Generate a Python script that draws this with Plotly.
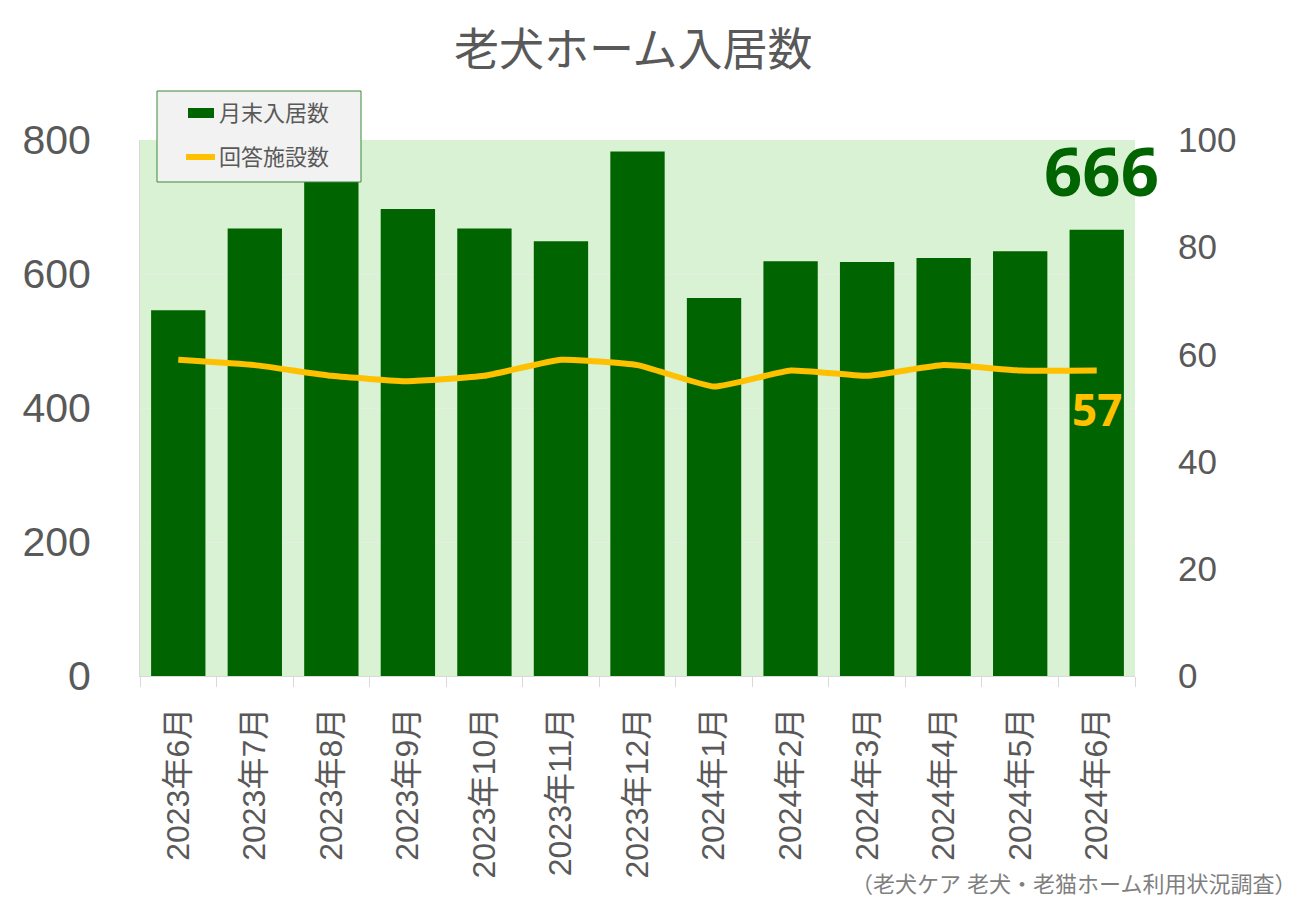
import plotly.graph_objects as go

months = ["2023年6月", "2023年7月", "2023年8月", "2023年9月", "2023年10月", "2023年11月",
          "2023年12月", "2024年1月", "2024年2月", "2024年3月", "2024年4月", "2024年5月", "2024年6月"]
residents = [546, 668, 755, 697, 668, 649, 783, 564, 619, 618, 624, 634, 666]
facilities = [59, 58, 56, 55, 56, 59, 58, 54, 57, 56, 58, 57, 57]
legend_names = ["月末入居数", "回答施設数"]

FONT = "Liberation Sans, Arial, Noto Sans CJK JP, sans-serif"
GRAY = "#595959"
GREEN = "#006400"
GOLD = "#ffc000"

# plot-area pixel geometry (page has an 8px body margin)
PX0, PX1, PY0, PY1 = 140, 1135, 140, 676


def px(x):
    return (x - PX0) / (PX1 - PX0)


def py(y):
    return (PY1 - y) / (PY1 - PY0)


fig = go.Figure()
fig.add_trace(go.Bar(
    x=months, y=residents, name=legend_names[0],
    marker=dict(color=GREEN, line=dict(width=0)),
    yaxis="y", showlegend=False,
))
fig.add_trace(go.Scatter(
    x=months, y=facilities, name=legend_names[1], mode="lines",
    line=dict(color=GOLD, width=6, shape="spline", smoothing=0.4),
    yaxis="y2", showlegend=False,
))

# value labels
fig.add_annotation(x=months[-1], xshift=5, y=py(170), yref="paper", yanchor="middle",
                   text="<b>%d</b>" % residents[-1], showarrow=False,
                   font=dict(family="Noto Sans, DejaVu Sans, sans-serif", size=67, color=GREEN))
fig.add_annotation(x=months[-1], y=facilities[-1], yref="y2", yshift=-39,
                   text="<b>%d</b>" % facilities[-1], showarrow=False,
                   font=dict(family="Noto Sans, DejaVu Sans, sans-serif", size=44, color=GOLD))

# source note
fig.add_annotation(x=px(1298), xref="paper", xanchor="right",
                   y=py(884), yref="paper", yanchor="middle",
                   text="（老犬ケア 老犬・老猫ホーム利用状況調査）", showarrow=False,
                   font=dict(family=FONT, size=22, color="#7f7f7f"))

# custom legend
fig.add_shape(type="rect", xref="paper", yref="paper",
              x0=px(157), x1=px(361), y0=py(182), y1=py(91),
              fillcolor="#f2f2f2", line=dict(color="#3b8a3b", width=1), layer="above")
fig.add_shape(type="rect", xref="paper", yref="paper",
              x0=px(188), x1=px(214), y0=py(118), y1=py(108),
              fillcolor=GREEN, line=dict(width=0), layer="above")
fig.add_shape(type="line", xref="paper", yref="paper",
              x0=px(186), x1=px(215), y0=py(157), y1=py(157),
              line=dict(color=GOLD, width=6), layer="above")
for name, yy in zip(legend_names, [113, 157]):
    fig.add_annotation(x=px(217), xref="paper", xanchor="left",
                       y=py(yy), yref="paper", yanchor="middle",
                       text=name, showarrow=False,
                       font=dict(family=FONT, size=22, color=GRAY))

fig.update_layout(
    width=1300, height=900,
    margin=dict(l=PX0 - 8, r=1300 - PX1 + 8, t=PY0 - 8, b=900 - PY1 + 8),
    paper_bgcolor="white",
    plot_bgcolor="#d9f2d3",
    title=dict(text="老犬ホーム入居数", x=0.481, xanchor="center", y=1 - 42 / 900, yanchor="middle",
               font=dict(family=FONT, size=45, color=GRAY)),
    font=dict(family=FONT, color=GRAY),
    bargap=0.29,
    showlegend=False,
    xaxis=dict(
        type="category", range=[-0.5, len(months) - 0.5], autorange=False,
        tickangle=-90, tickfont=dict(size=32, color=GRAY),
        tickson="boundaries", ticks="outside", ticklen=10, tickcolor="#d9d9d9",
        showline=True, linecolor="#d9d9d9", linewidth=1,
        showgrid=False, ticklabelstandoff=18,
    ),
    yaxis=dict(
        range=[0, 800], dtick=200, tickfont=dict(size=41, color=GRAY),
        showgrid=True, gridcolor="#e4eee1", gridwidth=1, zeroline=False,
        ticklabelstandoff=40, showline=True, linecolor="#d9d9d9",
    ),
    yaxis2=dict(
        range=[0, 100], dtick=20, overlaying="y", side="right",
        tickfont=dict(size=35, color=GRAY), showgrid=False, zeroline=False,
        ticklabelstandoff=42,
    ),
)

fig.write_html("out.html")
